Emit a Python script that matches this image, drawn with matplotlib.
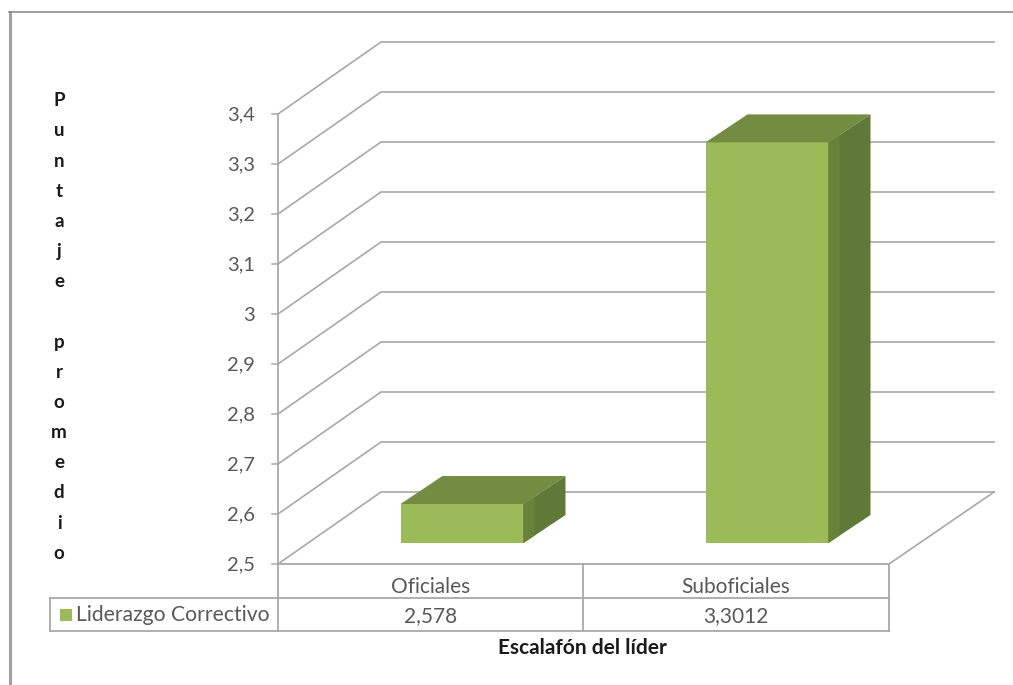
import matplotlib
matplotlib.use('Agg')
import matplotlib.pyplot as plt
import numpy as np

plt.rcParams['font.family'] = ['Lato', 'DejaVu Sans']

categories = ['Oficiales', 'Suboficiales']
values = [2.578, 3.3012]
value_labels = ['2,578', '3,3012']
series_name = 'Liderazgo Correctivo'
tick_values = [2.5, 2.6, 2.7, 2.8, 2.9, 3.0, 3.1, 3.2, 3.3, 3.4]
tick_labels = ['2,5', '2,6', '2,7', '2,8', '2,9', '3', '3,1', '3,2', '3,3', '3,4']
y_title = 'P\nu\nn\nt\na\nj\ne\n\np\nr\no\nm\ne\nd\ni\no'
x_title = 'Escalafón del líder'

W, H = 1013, 685
BASE_Y = 564           # pixel row of the value 2.5
PX_PER_UNIT = 500.0    # pixels per 1.0 of score
LEFT, RIGHT = 278, 889
WALL_DX, WALL_DY = 103, 72
WALL_END = 994
BAR_CENTERS = [462, 767]
BAR_WIDTH = 123
BAR_SHIFT_DY = 21      # front face sits back from the floor edge
BAR_DX, BAR_DY = 42, 28

GRID = '#a8a8a8'
TEXT = '#595959'
FRONT = '#9bbb59'
TOP = '#748c41'
SIDE = '#5f7a36'
SIDE_LIGHT = '#67823a'

fig = plt.figure(figsize=(W / 100, H / 100), dpi=100, facecolor='white')

# marks live on a value axis, x stays in pixels
ax = fig.add_axes([0, 0, 1, 1])
ax.set_xlim(0, W)
ax.set_ylim(2.5 - (H - BASE_Y) / PX_PER_UNIT, 2.5 + BASE_Y / PX_PER_UNIT)
ax.axis('off')

# table, frame and labels are placed in pixel space
px = fig.add_axes([0, 0, 1, 1])
px.set_xlim(0, W)
px.set_ylim(H, 0)
px.axis('off')
px.patch.set_alpha(0)


def up(pixels):
    return pixels / PX_PER_UNIT


# back wall lines with their diagonal run down to the axis
for t in tick_values:
    ax.plot([LEFT, LEFT + WALL_DX, WALL_END],
            [t, t + up(WALL_DY), t + up(WALL_DY)],
            color=GRID, lw=1.2, zorder=1, solid_joinstyle='miter')
ax.plot([RIGHT, WALL_END], [2.5, 2.5 + up(WALL_DY)], color=GRID, lw=1.2, zorder=1)

# 3D columns
for c, v in zip(BAR_CENTERS, values):
    x0 = c - BAR_WIDTH / 2
    x1 = c + BAR_WIDTH / 2
    y0 = 2.5 + up(BAR_SHIFT_DY)
    y1 = v + up(BAR_SHIFT_DY)
    d = up(BAR_DY)
    ax.bar(c, y1 - y0, width=BAR_WIDTH, bottom=y0, color=FRONT, lw=0, zorder=3)
    ax.fill([x0, x1, x1 + BAR_DX, x0 + BAR_DX], [y1, y1, y1 + d, y1 + d],
            color=TOP, lw=0, zorder=3)
    ax.fill([x1, x1 + BAR_DX, x1 + BAR_DX, x1], [y0, y0 + d, y1 + d, y1],
            color=SIDE, lw=0, zorder=3)
    ax.fill([x1, x1 + 11, x1 + 11, x1], [y0, y0 + d * 11 / BAR_DX, y1 + d * 11 / BAR_DX, y1],
            color=SIDE_LIGHT, lw=0, zorder=3)

# outer frame
px.plot([10, 10], [H, 12], color='#a0a0a0', lw=2.2, zorder=1)
px.plot([9, W], [12, 12], color='#8c8c8c', lw=1.2, zorder=1)

# value axis
px.plot([LEFT, LEFT], [114, 631], color=GRID, lw=1.3, zorder=4)
for t, label in zip(tick_values, tick_labels):
    yy = BASE_Y - (t - 2.5) * PX_PER_UNIT
    px.plot([LEFT - 6, LEFT], [yy, yy], color=GRID, lw=1.1, zorder=4)
    px.text(255, yy + 1, label, ha='right', va='center', fontsize=14.5, color=TEXT)

# data table under the plot
TABLE_TOP, TABLE_MID, TABLE_BOTTOM = 564, 598, 631
TABLE_LEFT, TABLE_DIV = 50, 583
px.plot([LEFT, RIGHT], [TABLE_TOP, TABLE_TOP], color=GRID, lw=1.3, zorder=4)
px.plot([TABLE_LEFT, RIGHT], [TABLE_MID, TABLE_MID], color=GRID, lw=1.3, zorder=4)
px.plot([TABLE_LEFT, RIGHT], [TABLE_BOTTOM, TABLE_BOTTOM], color=GRID, lw=1.3, zorder=4)
px.plot([TABLE_LEFT, TABLE_LEFT], [TABLE_MID, TABLE_BOTTOM], color=GRID, lw=1.3, zorder=4)
for xx in (TABLE_DIV, RIGHT):
    px.plot([xx, xx], [TABLE_TOP, TABLE_BOTTOM], color=GRID, lw=1.3, zorder=4)

col_centers = [(LEFT + TABLE_DIV) / 2, (TABLE_DIV + RIGHT) / 2]
for cx, name, val in zip(col_centers, categories, value_labels):
    px.text(cx, 587, name, ha='center', va='center', fontsize=15, color=TEXT, zorder=5)
    px.text(cx, 616, val, ha='center', va='center', fontsize=15, color=TEXT, zorder=5)

px.fill([60, 72, 72, 60], [609, 609, 621, 621], color=FRONT, lw=0, zorder=5)
px.text(76, 615, series_name, ha='left', va='center', fontsize=15.2, color=TEXT, zorder=5)

# axis titles
px.text(59, 327, y_title, ha='center', va='center', ma='center', fontsize=13.5,
        fontweight='bold', color='#1a1a1a', linespacing=1.94)
px.text(582, 648, x_title, ha='center', va='center', fontsize=15,
        fontweight='bold', color='#1a1a1a')

plt.savefig('out.png', dpi=100)
